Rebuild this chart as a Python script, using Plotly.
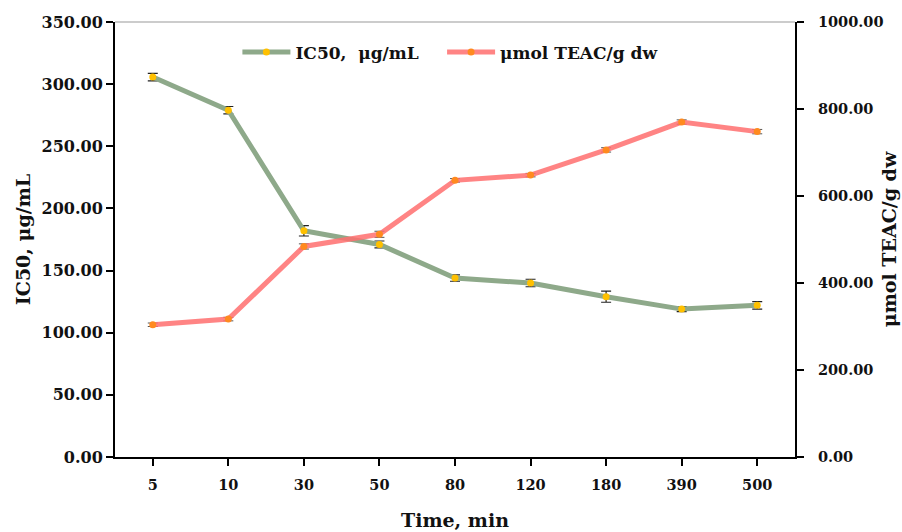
import plotly.graph_objects as go

time_labels = ["5", "10", "30", "50", "80", "120", "180", "390", "500"]
ic50 = [305.7, 279.0, 182.0, 171.0, 144.0, 140.0, 129.0, 119.0, 122.0]
ic50_err = [3.0, 3.0, 4.2, 2.8, 2.6, 3.0, 4.5, 2.0, 3.0]
teac = [304.0, 317.0, 484.0, 512.0, 636.0, 648.0, 706.0, 770.0, 748.0]
teac_err = [4.0, 4.0, 6.0, 7.0, 4.0, 4.0, 5.0, 5.0, 5.0]

FONT = "DejaVu Serif"
GREEN = "#8EA98A"
RED = "rgba(255,110,110,0.85)"

fig = go.Figure()
fig.add_trace(go.Scatter(
    x=time_labels, y=ic50, name="IC50,  μg/mL", mode="lines+markers",
    line=dict(color=GREEN, width=5),
    marker=dict(color="#FFC000", size=7),
    error_y=dict(type="data", array=ic50_err, visible=True, color="#222222",
                 thickness=1.2, width=5),
    yaxis="y", legend="legend",
))
fig.add_trace(go.Scatter(
    x=time_labels, y=teac, name="μmol TEAC/g dw", mode="lines+markers",
    line=dict(color=RED, width=5),
    marker=dict(color="#FF8A1F", size=7),
    error_y=dict(type="data", array=teac_err, visible=True, color="#555555",
                 thickness=1, width=5),
    yaxis="y2", legend="legend2",
))

lefttick = dict(family=FONT, size=16, color="#111111", weight="bold")
smalltick = dict(family=FONT, size=14.5, color="#111111", weight="bold")
titlefont = dict(family=FONT, size=19, color="#111111", weight="bold")
legfont = dict(family=FONT, size=17, color="#111111", weight="bold")

fig.update_layout(
    width=902, height=532,
    margin=dict(l=115, r=107, t=22, b=75, autoexpand=False),
    paper_bgcolor="white", plot_bgcolor="white",
    font=dict(family=FONT, color="#111111"),
    showlegend=True,
    legend=dict(orientation="h", x=0.18, y=0.93, xanchor="left", yanchor="middle",
                font=legfont, bgcolor="rgba(0,0,0,0)", itemwidth=48),
    legend2=dict(orientation="h", x=0.481, y=0.93, xanchor="left", yanchor="middle",
                 font=legfont, bgcolor="rgba(0,0,0,0)", itemwidth=48),
    xaxis=dict(
        type="category", range=[-0.5, 8.5], automargin=False,
        showline=True, linecolor="black", linewidth=2,
        ticks="outside", ticklen=7, tickcolor="black", tickwidth=1.5,
        showgrid=False, zeroline=False,
        tickfont=smalltick, ticklabelstandoff=7,
        title=dict(text="Time, min", font=titlefont, standoff=21),
    ),
    yaxis=dict(
        range=[0, 350], dtick=50, tickformat=".2f", automargin=False,
        showline=True, linecolor="black", linewidth=2,
        ticks="outside", ticklen=7, tickcolor="black", tickwidth=1.5,
        showgrid=False, zeroline=False,
        tickfont=lefttick,
        title=dict(text="IC50, μg/mL", font=titlefont, standoff=6),
    ),
    yaxis2=dict(
        range=[0, 1000], dtick=200, tickformat=".2f", automargin=False,
        overlaying="y", side="right", anchor="x",
        showline=True, linecolor="black", linewidth=2,
        ticks="outside", ticklen=7, tickcolor="black", tickwidth=1.5,
        showgrid=False, zeroline=False,
        tickfont=smalltick, ticklabelstandoff=11,
        title=dict(text="μmol TEAC/g dw", font=titlefont, standoff=0),
    ),
    shapes=[dict(type="line", xref="paper", yref="paper", x0=0, x1=1, y0=1, y1=1,
                 line=dict(color="#999999", width=1))],
)

fig.write_html("out.html", config={"displayModeBar": False},
               post_script="document.body.style.margin='0';")
